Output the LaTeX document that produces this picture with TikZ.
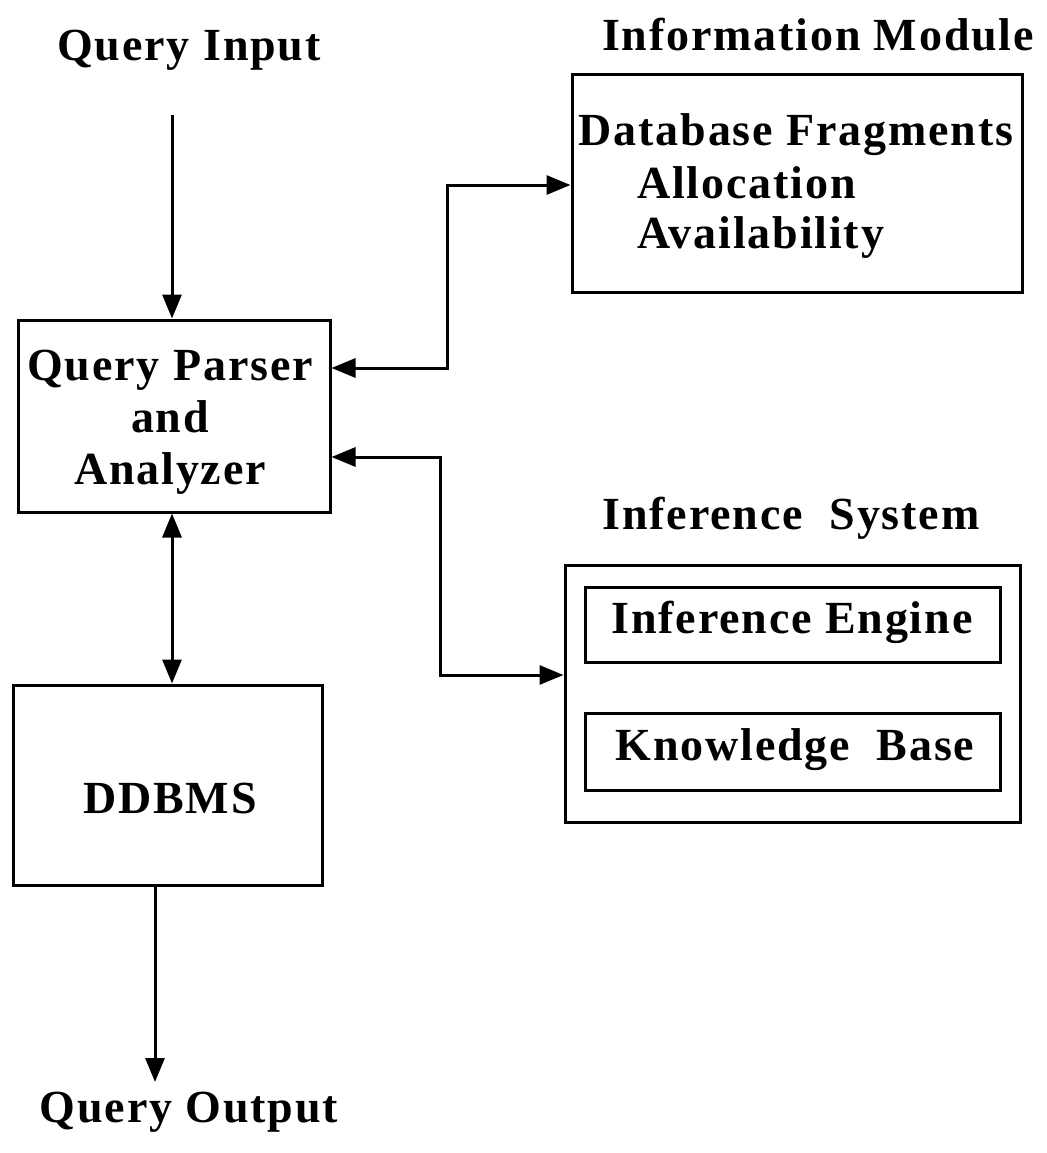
\documentclass[tikz,border=0pt]{standalone}
\usepackage{fontspec}
\setmainfont{Liberation Serif}[LetterSpace=4]
\usetikzlibrary{arrows.meta}
\tikzset{
  box/.style={draw, line width=3pt, minimum width=#1, inner sep=0pt},
  lbl/.style={font=\fontsize{46}{54}\selectfont\bfseries, inner sep=0pt, align=center},
  conn/.style={line width=3pt, {Triangle[length=24pt,width=19pt]}-{Triangle[length=24pt,width=19pt]}},
  oneway/.style={line width=3pt, -{Triangle[length=24pt,width=19pt]}}
}
\begin{document}
\begin{tikzpicture}[x=1pt,y=-1pt]
\useasboundingbox (0,0) rectangle (1046,1153);
% boxes
\node[box=312pt, minimum height=192pt] (qp) at (174,416) {};
\node[box=450pt, minimum height=217pt] (info) at (797,183.5) {};
\node[box=455pt, minimum height=257pt] (inf) at (792.5,693.5) {};
\node[box=415pt, minimum height=75pt] (ie) at (792.5,624.5) {};
\node[box=415pt, minimum height=77pt] (kb) at (792.5,751.5) {};
\node[box=309pt, minimum height=200pt] (db) at (167.5,785) {};
% texts
\node[lbl] (tqin) at (189,50) {Query Input};
\node[lbl] (tqout) at (189,1112) {Query Output};
\node[lbl] (tim) at (818,35) {Information Module};
\node[lbl] (tis) at (791,518) {Inference\ \ System};
\node[lbl] (tqp) at (170,422) {Query Parser\\[-2pt]and\\[-2pt]Analyzer};
\node[lbl] (tdf) at (796,135) {Database Fragments};
\node[lbl, anchor=base west] (tal) at (637,198) {Allocation};
\node[lbl, anchor=base west] (tav) at (637,248) {Availability};
\node[lbl] (tie) at (792,622) {Inference Engine};
\node[lbl] (tkb) at (795,750) {Knowledge\ \ Base};
\node[lbl] (tdb) at (170,798) {DDBMS};
% connectors
\coordinate (qin) at (172,115);
\coordinate (qout) at (155,1082);
\draw[oneway] (qin) -- (qp.north -| qin);
\draw[conn] (qp.east |- 0,368) -| (447,185) -- (info.west |- 0,185);
\draw[conn] (qp.east |- 0,457) -| (440,675) -- (inf.west |- 0,675);
\draw[conn] (qp.south -| 172,0) -- (db.north -| 172,0);
\draw[oneway] (db.south -| qout) -- (qout);
\end{tikzpicture}
\end{document}
